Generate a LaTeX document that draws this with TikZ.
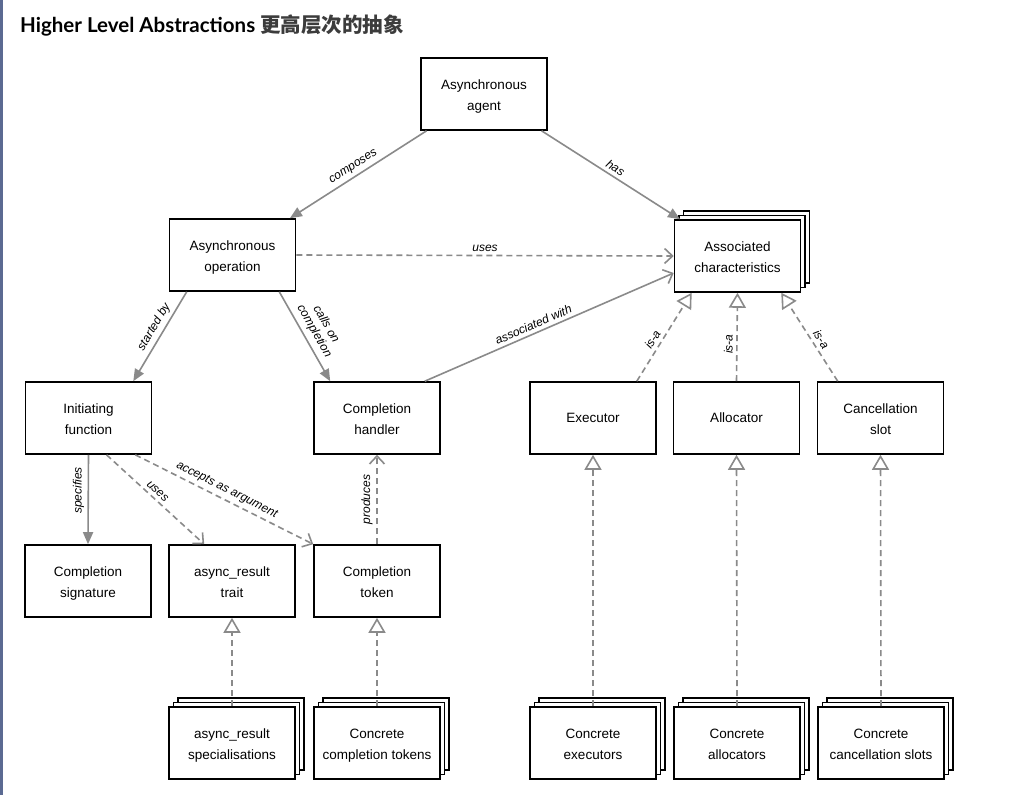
\documentclass[tikz,border=0pt]{standalone}
\usepackage{fontspec}
\setmainfont{Liberation Sans}
\newfontfamily\cjk{Noto Sans CJK SC}
\newfontfamily\titlefont{Lato}
\usetikzlibrary{arrows.meta,shadows,calc}
\definecolor{lg}{HTML}{8A8A8A}
\definecolor{barcol}{HTML}{5B6A92}
\definecolor{titlegray}{HTML}{3C3C3C}
\newcommand{\boxfont}{\fontsize{13.5}{21}\selectfont}
\newcommand{\lblfont}{\fontsize{12}{13}\selectfont\itshape}
\tikzset{
  box/.style={draw=black, line width=1.6pt, fill=white, minimum width=126pt, minimum height=72pt, align=center, inner sep=2pt, font=\boxfont},
  twoline/.style={text height=33pt, text depth=0pt},
  stackbox/.style={box, twoline,
    general shadow={shadow xshift=9pt, shadow yshift=9pt, fill=white, draw=black, line width=1.6pt},
    general shadow={shadow xshift=4.5pt, shadow yshift=4.5pt, fill=white, draw=black, line width=1.6pt}},
  arrsolid/.style={draw=lg, line width=1.6pt, -{Triangle[length=12pt,width=10pt]}},
  arrdash/.style={draw=lg, line width=1.6pt, dash pattern=on 6pt off 4pt, -{Straight Barb[length=8pt,width=15pt]}},
  arrisa/.style={draw=lg, line width=1.6pt, dash pattern=on 6pt off 4pt, -{Triangle[open,length=15pt,width=17pt,fill=white]}},
  lbl/.style={font=\lblfont, text=black, inner sep=3.5pt},
}
\begin{document}
\begin{tikzpicture}[x=1pt,y=-1pt]
\fill[white] (0,0) rectangle (1009,795);
\useasboundingbox (0,0) rectangle (1009,795);
\fill[barcol] (0,0) rectangle (3,795);

\node[anchor=base west, inner sep=0, font=\fontsize{20.5}{24}\selectfont] (title) at (20,32)
  {\titlefont\bfseries Higher Level Abstractions {\cjk\bfseries\color{titlegray}更高层次的抽象}};

% nodes
\node[box, twoline] (agent) at (484,94) {Asynchronous\\agent};
\node[box, twoline] (op) at (232.5,255) {Asynchronous\\operation};
\node[stackbox] (assoc) at (737.5,256) {Associated\\characteristics};
\node[box, twoline] (init) at (88.5,418) {Initiating\\function};
\node[box, twoline] (handler) at (377,418) {Completion\\handler};
\node[box] (executor) at (593,418) {Executor};
\node[box] (allocator) at (736.5,418) {Allocator};
\node[box, twoline] (cancel) at (880.5,418) {Cancellation\\slot};
\node[box, twoline] (sig) at (88,581) {Completion\\signature};
\node[box, twoline] (trait) at (232,581) {async\_result\\trait};
\node[box, twoline] (token) at (377,581) {Completion\\token};
\node[stackbox] (spec) at (232,743) {async\_result\\specialisations};
\node[stackbox] (ctokens) at (377,743) {Concrete\\completion tokens};
\node[stackbox] (cexec) at (593,743) {Concrete\\executors};
\node[stackbox] (calloc) at (737,743) {Concrete\\allocators};
\node[stackbox] (ccancel) at (881,743) {Concrete\\cancellation slots};

% edges
\draw[arrsolid] (agent) -- (op) node[lbl, midway, sloped, above] {composes};
\draw[arrsolid] (agent) -- (assoc) node[lbl, midway, sloped, above] {has};
\draw[arrdash] (op.east) -- (assoc.west) node[lbl, midway, above] {uses};
\draw[arrsolid] ($(op.south west)+(18,0)$) -- ($(init.north east)+(-19,0)$)
  node[lbl, pos=0.45, sloped, above] {started by};
\draw[arrsolid] ($(op.south east)+(-17,0)$) -- ($(handler.north west)+(17,0)$)
  node[lbl, midway, sloped, above, inner sep=4.5pt, align=center, font=\fontsize{12}{13.5}\selectfont\itshape] {calls on\\completion};
\draw[draw=lg, line width=1.6pt, -{Straight Barb[length=8pt,width=15pt]}]
  ($(handler.north east)+(-16,0)$) -- ($(assoc.west)+(0,17)$)
  node[lbl, pos=0.45, sloped, above] {associated with};
\draw[arrisa] ($(executor.north east)+(-20,0)$) -- ($(assoc.south west)+(18,0)$)
  node[lbl, pos=0.42, sloped, above] {is-a};
\draw[arrisa] (allocator.north) -- (assoc.south)
  node[lbl, pos=0.42, rotate=90, anchor=south] {is-a};
\draw[arrisa] ($(cancel.north west)+(21,0)$) -- ($(assoc.south east)+(-20,0)$)
  node[lbl, pos=0.42, sloped, above] {is-a};
\draw[arrsolid] (init.south) -- (sig.north)
  node[lbl, pos=0.4, rotate=90, anchor=south] {specifies};
\draw[arrdash] ($(init.south)+(18,0)$) -- ($(trait.north west)+(36,0)$)
  node[lbl, pos=0.47, sloped, above] {uses};
\draw[arrdash] ($(init.south east)+(-17,0)$) -- (token.north west)
  node[lbl, pos=0.49, sloped, above] {accepts as argument};
\draw[arrdash] (token.north) -- (handler.south)
  node[lbl, midway, rotate=90, anchor=south] {produces};
\draw[arrisa] (spec.north) -- (trait.south);
\draw[arrisa] (ctokens.north) -- (token.south);
\draw[arrisa] (cexec.north) -- (executor.south);
\draw[arrisa] (calloc.north) -- (allocator.south);
\draw[arrisa] (ccancel.north) -- (cancel.south);
\end{tikzpicture}
\end{document}
